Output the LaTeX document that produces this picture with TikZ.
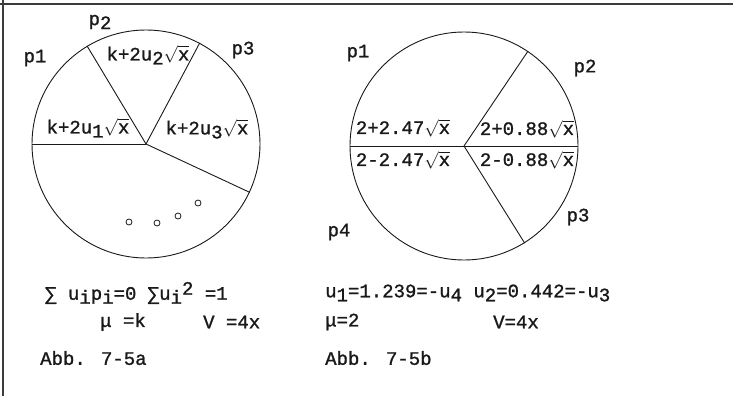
\documentclass[tikz,border=0pt]{standalone}
\usepackage{fontspec}
\setmainfont{Liberation Mono}[RawFeature={embolden=1.2}]
\usetikzlibrary{positioning}
\definecolor{ink}{RGB}{25,25,25}
\definecolor{frameclr}{RGB}{60,60,60}
\newcommand{\dn}[1]{\raisebox{-4pt}{#1}}
\newcommand{\hi}[1]{\raisebox{5pt}{#1}}
\newcommand{\rx}{$\sqrt{\mbox{x}}$}
\tikzset{
  %% big pie circle
  pie/.style={circle,draw=ink,line width=0.9pt,minimum size=228pt,inner sep=0pt},
  %% radius line
  spoke/.style={draw=ink,line width=0.9pt},
  %% small circles (continuation marks)
  dot/.style={circle,draw=ink,line width=0.8pt,minimum size=6pt,inner sep=0pt},
  %% labels inside and round the circles
  lbl/.style={font=\fontsize{19}{22}\selectfont,text=ink,inner sep=0pt},
  %% formula lines below
  txt/.style={font=\fontsize{19}{22}\selectfont,text=ink,inner sep=0pt,anchor=west},
}
\begin{document}
\begin{tikzpicture}[x=1pt,y=-1pt]
  \useasboundingbox (0,0) rectangle (733,396);

  %% frame (top and left only)
  \draw[frameclr,line width=1.6pt] (0,4) -- (733,4);
  \draw[frameclr,line width=1.6pt] (3,0) -- (3,396);

  %% Abb. 7-5a
  \node[pie] (cl) at (146,144) {};
  \draw[spoke] (cl.center) -- (cl.180);
  \draw[spoke] (cl.center) -- (cl.121);
  \draw[spoke] (cl.center) -- (cl.62);
  \draw[spoke] (cl.center) -- (cl.-25);

  \node[lbl] (la2) at (148,55)  {k+2u\dn{2}\rx};
  \node[lbl] (la1) at (88,128)  {k+2u\dn{1}\rx};
  \node[lbl] (la3) at (207,129) {k+2u\dn{3}\rx};
  \node[lbl] (pa1) at (35,58)   {p1};
  \node[lbl] (pa2) at (100,22)  {p\dn{2}};
  \node[lbl] (pa3) at (243,50)  {p3};

  \node[dot] (d1) at (129,222) {};
  \node[dot] (d2) at (157,223) {};
  \node[dot] (d3) at (178,216) {};
  \node[dot] (d4) at (198,203) {};

  %% Abb. 7-5b
  \node[pie] (cr) at (464,146) {};
  \draw[spoke] (cr.180) -- (cr.0);
  \draw[spoke] (cr.center) -- (cr.56);
  \draw[spoke] (cr.center) -- (cr.-58);

  \node[lbl] (lb1) at (403,128) {2+2.47\rx};
  \node[lbl] (lb2) at (527,129) {2+0.88\rx};
  \node[lbl] (lb4) at (403,160) {2-2.47\rx};
  \node[lbl] (lb3) at (527,160) {2-0.88\rx};
  \node[lbl] (pb1) at (358,53)  {p1};
  \node[lbl] (pb2) at (585,68)  {p2};
  \node[lbl] (pb3) at (578,217) {p3};
  \node[lbl] (pb4) at (339,232) {p4};

  %% formulas and captions
  \node[txt] (fa1) at (45,293)  {∑ u\dn{i}p\dn{i}=0 ∑u\dn{i}\hi{2} =1};
  \node[txt] (fa2) at (100,322) {μ =k};
  \node[txt] (fa3) at (203,322) {V =4x};
  \node[txt] (ca)  at (40,358)  {Abb. 7-5a};

  \node[txt] (fb1) at (325,293) {u\dn{1}=1.239=-u\dn{4} u\dn{2}=0.442=-u\dn{3}};
  \node[txt] (fb2) at (325,322) {μ=2};
  \node[txt] (fb3) at (493,322) {V=4x};
  \node[txt] (cb)  at (325,358) {Abb. 7-5b};
\end{tikzpicture}
\end{document}
